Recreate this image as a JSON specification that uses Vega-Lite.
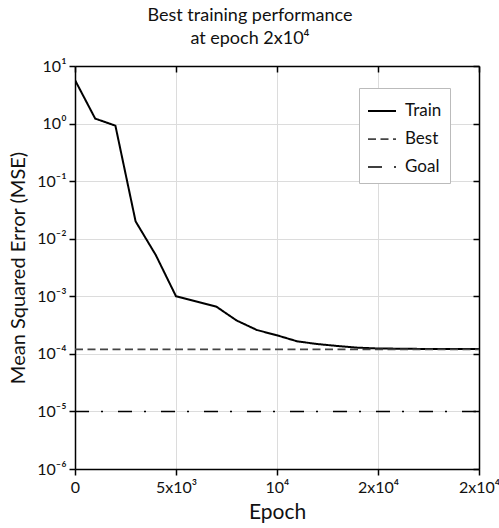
{
  "$schema": "https://vega.github.io/schema/vega-lite/v6.json",
  "autosize": "none",
  "width": 404,
  "height": 403,
  "padding": {"left": 75, "top": 66, "right": 20, "bottom": 59},
  "background": "white",
  "config": {
    "font": "Lato",
    "view": {"stroke": null},
    "axis": {"labelFont": "Lato", "titleFont": "Lato", "titleFontWeight": "normal", "labelColor": "#111", "titleColor": "#111"}
  },
  "title": {
    "text": ["Best training performance", "at epoch 2x10⁴"],
    "fontSize": 18,
    "fontWeight": "normal",
    "font": "Lato",
    "color": "#111",
    "anchor": "middle",
    "dx": -27,
    "offset": 10,
    "lineHeight": 23
  },
  "data": {
    "values": [
      {"epoch": 0, "mse": 5.7, "series": "Train"},
      {"epoch": 1000, "mse": 1.22, "series": "Train"},
      {"epoch": 2000, "mse": 0.92, "series": "Train"},
      {"epoch": 3000, "mse": 0.02, "series": "Train"},
      {"epoch": 4000, "mse": 0.0052, "series": "Train"},
      {"epoch": 5000, "mse": 0.001, "series": "Train"},
      {"epoch": 7000, "mse": 0.00066, "series": "Train"},
      {"epoch": 8000, "mse": 0.00038, "series": "Train"},
      {"epoch": 9000, "mse": 0.00026, "series": "Train"},
      {"epoch": 10000, "mse": 0.00021, "series": "Train"},
      {"epoch": 11000, "mse": 0.000165, "series": "Train"},
      {"epoch": 12000, "mse": 0.000148, "series": "Train"},
      {"epoch": 13000, "mse": 0.000137, "series": "Train"},
      {"epoch": 14000, "mse": 0.000128, "series": "Train"},
      {"epoch": 15000, "mse": 0.000124, "series": "Train"},
      {"epoch": 17000, "mse": 0.000122, "series": "Train"},
      {"epoch": 20000, "mse": 0.000121, "series": "Train"},
      {"epoch": 0, "mse": 0.00012, "series": "Best"},
      {"epoch": 20000, "mse": 0.00012, "series": "Best"},
      {"epoch": 0, "mse": 0.00001, "series": "Goal"},
      {"epoch": 20000, "mse": 0.00001, "series": "Goal"}
    ]
  },
  "layer": [
    {
      "mark": {"type": "line", "clip": true},
      "encoding": {
        "x": {
          "field": "epoch", "type": "quantitative",
          "scale": {"domain": [0, 20000], "nice": false},
          "axis": {
            "orient": "bottom",
            "values": [0, 5000, 10000, 15000, 20000],
            "labelExpr": "datum.value == 0 ? '0' : datum.value == 5000 ? '5x10³' : datum.value == 10000 ? '10⁴' : '2x10⁴'",
            "labelFontSize": 16,
            "labelPadding": 4,
            "labelFlush": false,
            "title": "Epoch",
            "titleFontSize": 21,
            "titlePadding": 6,
            "domainColor": "black",
            "domainWidth": 1.5,
            "tickColor": "black",
            "tickWidth": 1.5,
            "tickSize": 6,
            "grid": true,
            "gridColor": "#dcdcdc",
            "gridWidth": 1
          }
        },
        "y": {
          "field": "mse", "type": "quantitative",
          "scale": {"type": "log", "domain": [0.000001, 10], "nice": false},
          "axis": {
            "orient": "left",
            "values": [0.000001, 0.00001, 0.0001, 0.001, 0.01, 0.1, 1, 10],
            "labelExpr": "round(log(datum.value)/LN10) == 1 ? '10¹' : round(log(datum.value)/LN10) == 0 ? '10⁰' : round(log(datum.value)/LN10) == -1 ? '10⁻¹' : round(log(datum.value)/LN10) == -2 ? '10⁻²' : round(log(datum.value)/LN10) == -3 ? '10⁻³' : round(log(datum.value)/LN10) == -4 ? '10⁻⁴' : round(log(datum.value)/LN10) == -5 ? '10⁻⁵' : '10⁻⁶'",
            "labelFontSize": 16,
            "labelPadding": 3,
            "labelFlush": false,
            "title": "Mean Squared Error (MSE)",
            "titleFontSize": 20,
            "titlePadding": 8,
            "domainColor": "black",
            "domainWidth": 1.5,
            "tickColor": "black",
            "tickWidth": 1.5,
            "tickSize": 6,
            "grid": true,
            "gridColor": "#dcdcdc",
            "gridWidth": 1
          }
        },
        "color": {
          "field": "series", "type": "nominal",
          "scale": {"domain": ["Train", "Best", "Goal"], "range": ["#000000", "#444444", "#000000"]},
          "legend": {
            "title": null,
            "orient": "none",
            "legendX": 284,
            "legendY": 22,
            "padding": 8,
            "strokeColor": "#bbbbbb",
            "fillColor": "white",
            "symbolType": "stroke",
            "symbolSize": 784,
            "symbolStrokeWidth": 2,
            "labelFontSize": 17,
            "labelFont": "Lato",
            "labelColor": "#111",
            "rowPadding": 5,
            "labelOffset": 8
          }
        },
        "strokeDash": {
          "field": "series", "type": "nominal",
          "scale": {"domain": ["Train", "Best", "Goal"], "range": [[1, 0], [8, 4.5], [14, 12, 2, 15]]},
          "legend": {
            "title": null,
            "orient": "none",
            "legendX": 284,
            "legendY": 22,
            "padding": 8,
            "strokeColor": "#bbbbbb",
            "fillColor": "white",
            "symbolType": "stroke",
            "symbolSize": 784,
            "symbolStrokeWidth": 2,
            "labelFontSize": 17,
            "labelFont": "Lato",
            "labelColor": "#111",
            "rowPadding": 5,
            "labelOffset": 8
          }
        },
        "strokeWidth": {
          "field": "series", "type": "nominal",
          "scale": {"domain": ["Train", "Best", "Goal"], "range": [2, 1.5, 1.5]},
          "legend": null
        }
      }
    },
    {
      "mark": {"type": "line", "opacity": 0},
      "encoding": {
        "x": {
          "field": "epoch", "type": "quantitative",
          "axis": {
            "orient": "top",
            "values": [0, 5000, 10000, 15000, 20000],
            "labels": false,
            "title": null,
            "grid": false,
            "domainColor": "black",
            "domainWidth": 1.5,
            "tickColor": "black",
            "tickWidth": 1.5,
            "tickSize": -6
          }
        },
        "y": {
          "field": "mse", "type": "quantitative",
          "axis": {
            "orient": "right",
            "values": [0.000001, 0.00001, 0.0001, 0.001, 0.01, 0.1, 1, 10],
            "labels": false,
            "title": null,
            "grid": false,
            "domainColor": "black",
            "domainWidth": 1.5,
            "tickColor": "black",
            "tickWidth": 1.5,
            "tickSize": -6
          }
        }
      }
    }
  ],
  "resolve": {"axis": {"x": "independent", "y": "independent"}}
}
